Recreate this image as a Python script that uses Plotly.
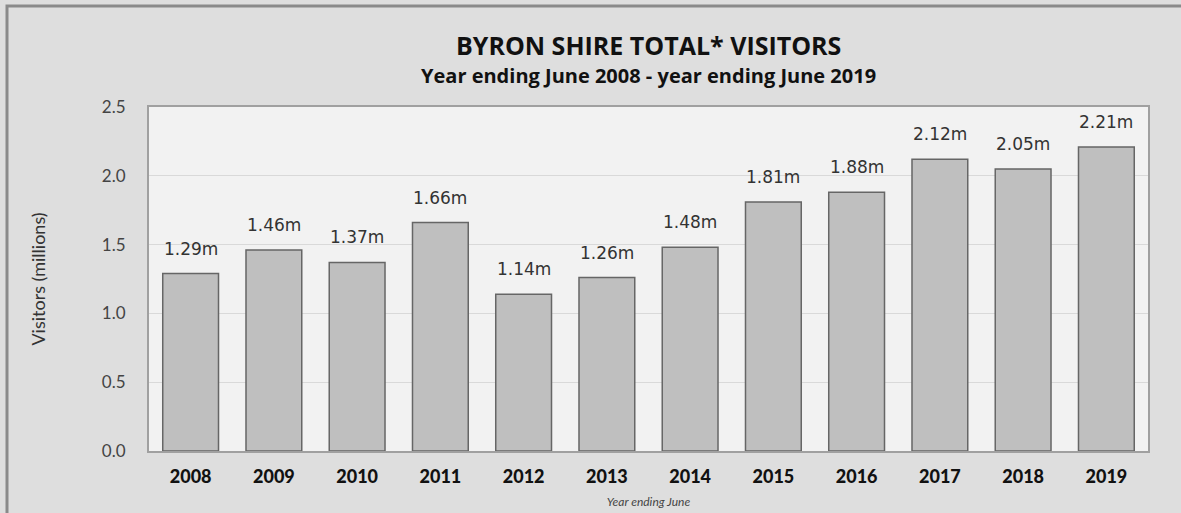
import plotly.graph_objects as go

years = ["2008", "2009", "2010", "2011", "2012", "2013",
         "2014", "2015", "2016", "2017", "2018", "2019"]
visitors = [1.29, 1.46, 1.37, 1.66, 1.14, 1.26,
            1.48, 1.81, 1.88, 2.12, 2.05, 2.21]
labels = [f"{v:.2f}m" for v in visitors]
y_ticks = [0.0, 0.5, 1.0, 1.5, 2.0, 2.5]

W, H = 1181, 513
L, R, T, B = 149, 33, 107, 62
pw, ph = W - L - R, H - T - B

fig = go.Figure(go.Bar(
    x=years, y=visitors,
    marker=dict(color="#bfbfbf", line=dict(color="#666666", width=1.5)),
    hoverinfo="x+y",
))

# value labels above each bar (x given as category index)
for i, (v, lab) in enumerate(zip(visitors, labels)):
    fig.add_annotation(x=i, y=v, text=lab, showarrow=False,
                       yanchor="bottom", yshift=13,
                       font=dict(family="DejaVu Sans, sans-serif", size=17, color="#333333"))

# title and subtitle
fig.add_annotation(xref="paper", yref="paper", x=0.5, y=(H - B - 45) / ph,
                   text="<b>BYRON SHIRE TOTAL* VISITORS</b>", showarrow=False,
                   yanchor="middle", xanchor="center",
                   font=dict(family="Open Sans, sans-serif", size=25, color="#111111"))
fig.add_annotation(xref="paper", yref="paper", x=0.5, y=(H - B - 75) / ph,
                   text="<b>Year ending June 2008 - year ending June 2019</b>", showarrow=False,
                   yanchor="middle", xanchor="center",
                   font=dict(family="Open Sans, sans-serif", size=20, color="#111111"))

# outer frame around the whole chart
fig.add_shape(type="rect", xref="paper", yref="paper",
              x0=(7 - L) / pw, x1=(W + 5 - L) / pw,
              y0=(H - B - (H + 10)) / ph, y1=(H - B - 6) / ph,
              line=dict(color="#8a8a8a", width=3), fillcolor="rgba(0,0,0,0)",
              layer="below")

fig.update_layout(
    width=W, height=H,
    margin=dict(l=L, r=R, t=T, b=B),
    paper_bgcolor="#dedede",
    plot_bgcolor="#f2f2f2",
    bargap=0.33,
    showlegend=False,
    xaxis=dict(
        type="category", automargin=False,
        tickfont=dict(family="Lato, sans-serif", size=18, color="#111111", weight=900),
        showline=True, linecolor="#a0a0a0", linewidth=2, mirror=True,
        ticks="outside", ticklen=8, tickcolor="rgba(0,0,0,0)",
        title=dict(text="<i>Year ending June</i>",
                   font=dict(family="Lato, sans-serif", size=12, color="#444444"),
                   standoff=12),
    ),
    yaxis=dict(
        range=[0, 2.5], tickvals=y_ticks, automargin=False,
        ticktext=[f"{t:.1f}" for t in y_ticks],
        tickfont=dict(family="Lato, sans-serif", size=17, color="#444444"),
        gridcolor="#d9d9d9", gridwidth=1,
        showline=True, linecolor="#a0a0a0", linewidth=2, mirror=True,
        zeroline=False, ticks="", ticklabelstandoff=18,
        title=dict(text="Visitors (millions)",
                   font=dict(family="Lato, sans-serif", size=18, color="#333333"),
                   standoff=52),
    ),
)

fig.write_html("out.html")
